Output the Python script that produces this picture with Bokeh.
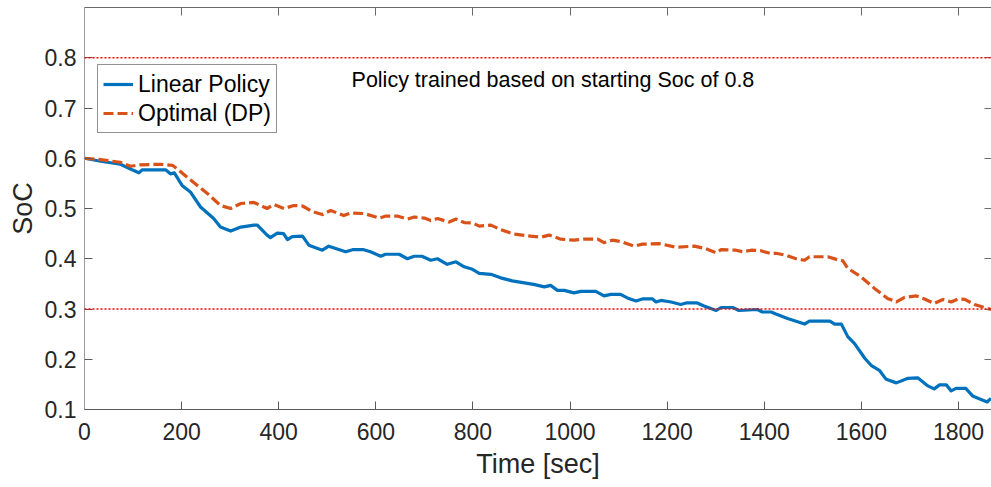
from bokeh.plotting import figure
from bokeh.models import (ColumnDataSource, Legend, LegendItem, Span, Label,
                          LinearAxis, FixedTicker, Range1d)
from bokeh.embed import file_html
from bokeh.resources import INLINE

# Linear policy SoC trajectory (time [s], state of charge)
t_linear = [0, 33, 74, 98, 112, 119, 167, 177, 185, 201, 218, 239, 266, 280, 301,
            322, 349, 356, 376, 383, 397, 410, 418, 428, 449, 462, 490, 503, 538,
            552, 575, 589, 610, 620, 648, 665, 679, 695, 713, 727, 747, 765, 782,
            799, 813, 837, 857, 881, 912, 925, 947, 960, 974, 988, 1008, 1022,
            1053, 1070, 1084, 1104, 1118, 1136, 1149, 1170, 1177, 1187, 1208,
            1228, 1239, 1262, 1276, 1301, 1311, 1335, 1348, 1386, 1396, 1414,
            1424, 1448, 1483, 1493, 1535, 1545, 1559, 1562, 1572, 1586, 1607,
            1620, 1637, 1651, 1672, 1696, 1716, 1737, 1750, 1761, 1775, 1785,
            1795, 1815, 1829, 1859, 1867]
soc_linear = [0.600, 0.594, 0.588, 0.577, 0.571, 0.577, 0.577, 0.569, 0.571, 0.546,
              0.533, 0.503, 0.480, 0.463, 0.455, 0.463, 0.467, 0.467, 0.447, 0.442,
              0.451, 0.450, 0.438, 0.444, 0.445, 0.427, 0.417, 0.425, 0.414, 0.418,
              0.418, 0.414, 0.405, 0.409, 0.409, 0.400, 0.405, 0.405, 0.397, 0.400,
              0.389, 0.394, 0.384, 0.379, 0.371, 0.369, 0.362, 0.356, 0.351, 0.349,
              0.344, 0.347, 0.337, 0.337, 0.332, 0.335, 0.335, 0.326, 0.329, 0.329,
              0.322, 0.316, 0.320, 0.320, 0.314, 0.317, 0.314, 0.309, 0.312, 0.312,
              0.306, 0.297, 0.303, 0.303, 0.297, 0.299, 0.294, 0.294, 0.290, 0.281,
              0.270, 0.276, 0.276, 0.270, 0.270, 0.264, 0.245, 0.231, 0.202, 0.188,
              0.178, 0.160, 0.153, 0.162, 0.163, 0.147, 0.141, 0.149, 0.149, 0.137,
              0.142, 0.142, 0.127, 0.115, 0.122]

# Dynamic-programming optimum SoC trajectory
t_optimal = [0, 26, 74, 95, 115, 157, 181, 191, 218, 253, 280, 301, 322, 349, 376,
             390, 411, 431, 449, 469, 490, 507, 534, 548, 576, 607, 621, 644, 665,
             679, 700, 713, 727, 751, 765, 782, 800, 813, 837, 857, 885, 919, 940,
             957, 981, 1008, 1029, 1057, 1070, 1087, 1105, 1132, 1149, 1184, 1218,
             1256, 1280, 1301, 1311, 1342, 1355, 1373, 1393, 1414, 1424, 1445, 1469,
             1483, 1493, 1531, 1551, 1562, 1572, 1599, 1627, 1654, 1672, 1689, 1713,
             1730, 1750, 1768, 1785, 1799, 1813, 1833, 1867]
soc_optimal = [0.600, 0.598, 0.592, 0.584, 0.587, 0.588, 0.586, 0.579, 0.557, 0.530,
               0.506, 0.500, 0.510, 0.512, 0.500, 0.508, 0.500, 0.506, 0.505, 0.494,
               0.488, 0.496, 0.486, 0.491, 0.490, 0.481, 0.485, 0.485, 0.479, 0.483,
               0.481, 0.476, 0.480, 0.473, 0.479, 0.472, 0.471, 0.465, 0.467, 0.458,
               0.449, 0.445, 0.443, 0.447, 0.439, 0.437, 0.439, 0.439, 0.432, 0.437,
               0.434, 0.425, 0.429, 0.430, 0.423, 0.425, 0.420, 0.412, 0.418, 0.417,
               0.414, 0.417, 0.416, 0.410, 0.411, 0.407, 0.399, 0.397, 0.404, 0.404,
               0.398, 0.396, 0.381, 0.364, 0.341, 0.321, 0.314, 0.323, 0.326, 0.320,
               0.311, 0.319, 0.314, 0.320, 0.319, 0.309, 0.299]

# SoC operating limits
soc_limits = [0.8, 0.3]

x_ticks = [0, 200, 400, 600, 800, 1000, 1200, 1400, 1600, 1800]
y_ticks = [0.1, 0.2, 0.3, 0.4, 0.5, 0.6, 0.7, 0.8]

FONT = "Liberation Sans"
BLUE = "#0072BD"
ORANGE = "#D95319"

p = figure(width=991, height=487, output_backend="svg", toolbar_location=None,
           x_range=Range1d(0, 1868), y_range=Range1d(0.1, 0.9),
           min_border_left=84, min_border_top=7, min_border_right=0,
           min_border_bottom=78)
p.grid.visible = False
p.outline_line_color = None
p.background_fill_color = "white"
p.border_fill_color = "white"

for ax in (p.xaxis[0], p.yaxis[0]):
    ax.major_label_text_font = FONT
    ax.major_label_text_font_size = "23px"
    ax.major_label_text_color = "#262626"
    ax.axis_label_text_font = FONT
    ax.axis_label_text_font_size = "27px"
    ax.axis_label_text_font_style = "normal"
    ax.axis_label_text_color = "#262626"
    ax.major_tick_in = 8
    ax.major_tick_out = 0
    ax.minor_tick_in = 0
    ax.minor_tick_out = 0

p.xaxis[0].ticker = FixedTicker(ticks=x_ticks)
p.yaxis[0].ticker = FixedTicker(ticks=y_ticks)
p.xaxis[0].axis_label = "Time [sec]"
p.yaxis[0].axis_label = "SoC"
p.xaxis[0].axis_line_color = "#5a5a5a"
p.xaxis[0].major_tick_line_color = "#5a5a5a"
p.yaxis[0].axis_line_color = "#9a9a9a"
p.yaxis[0].major_tick_line_color = "#5a5a5a"
p.xaxis[0].major_label_standoff = 13
p.yaxis[0].major_label_standoff = 8
p.xaxis[0].axis_label_standoff = 6
p.yaxis[0].axis_label_standoff = 4

# Box axes on top and right: tick marks only
top = LinearAxis(ticker=FixedTicker(ticks=x_ticks),
                 major_label_text_color=None, major_label_text_font_size="1px",
                 major_tick_in=8, major_tick_out=0, minor_tick_in=0, minor_tick_out=0,
                 axis_line_color="#6a6a6a", major_tick_line_color="#6a6a6a",
                 major_label_standoff=0)
p.add_layout(top, "above")
right = LinearAxis(ticker=FixedTicker(ticks=y_ticks),
                   major_label_text_color=None, major_label_text_font_size="1px",
                   major_tick_in=7, major_tick_out=0, minor_tick_in=0, minor_tick_out=0,
                   axis_line_color=None, major_tick_line_color="#6a6a6a",
                   major_label_standoff=0)
p.add_layout(right, "right")

for lim in soc_limits:
    p.add_layout(Span(location=lim, dimension="width", line_color="#ff0000",
                      line_width=1.5, line_dash="2 2"))

src_lin = ColumnDataSource(dict(t=t_linear, soc=soc_linear))
src_opt = ColumnDataSource(dict(t=t_optimal, soc=soc_optimal))

r_lin = p.line("t", "soc", source=src_lin, line_color=BLUE, line_width=3.2,
               line_join="round")
r_opt = p.line("t", "soc", source=src_opt, line_color=ORANGE, line_width=3.2,
               line_dash="10 4", line_join="round")

legend = Legend(items=[LegendItem(label="Linear Policy", renderers=[r_lin]),
                       LegendItem(label="Optimal (DP)", renderers=[r_opt])],
                location=(13, 276), label_text_font=FONT,
                label_text_font_size="23px", label_text_color="black",
                glyph_width=30, glyph_height=28, label_height=28, spacing=1,
                padding=5, margin=0, label_standoff=5,
                border_line_color="#262626", border_line_width=1,
                background_fill_color="white", background_fill_alpha=1)
p.add_layout(legend, "center")

p.add_layout(Label(x=550, y=0.7555, text="Policy trained based on starting Soc of 0.8",
                   text_font=FONT, text_font_size="21.5px", text_color="black",
                   text_baseline="middle"))

open("out.html", "w").write(file_html(p, INLINE))
